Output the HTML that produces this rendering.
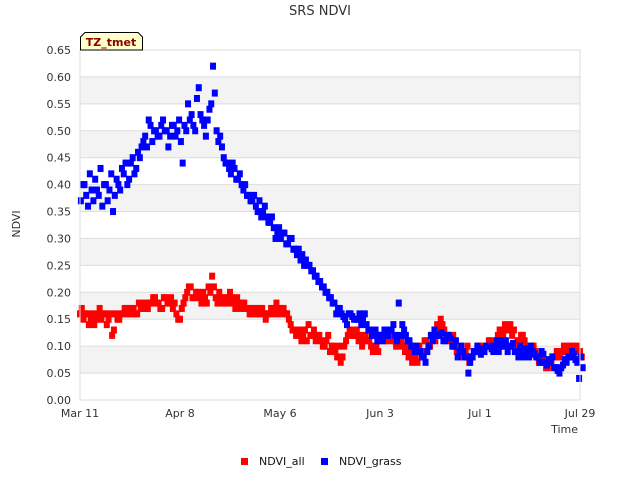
<!DOCTYPE html>
<html><head><meta charset="utf-8"><style>
body{margin:0;background:#fff;}
svg text{font-family:"DejaVu Sans","Liberation Sans",sans-serif;}
</style></head><body>
<svg id="c" width="640" height="480" xmlns="http://www.w3.org/2000/svg">
<rect width="640" height="480" fill="#fff"/>
<text x="320" y="15" text-anchor="middle" font-size="13" fill="#333">SRS NDVI</text>
<g id="bands"></g><g id="grid"></g>
<g id="marks"></g>
<rect x="80" y="50" width="500" height="350" fill="none" stroke="#ddd"/>
<g id="yt"></g><g id="xt"></g>
<text x="20" y="224" transform="rotate(-90 20 224)" text-anchor="middle" font-size="11" fill="#333">NDVI</text>
<text x="578" y="433" text-anchor="end" font-size="11" fill="#333">Time</text>
<g>
<path d="M80.5,50 L80.5,37 L85,32.5 L138,32.5 L142.5,37 L142.5,50 Z" fill="#ffffcc" stroke="#000"/>
<text x="111" y="46" text-anchor="middle" font-size="11" font-weight="bold" fill="#8b0000">TZ_tmet</text>
</g>
<g>
<rect x="241" y="458" width="7" height="7" fill="#f00"/>
<text x="259" y="465" font-size="11" fill="#111">NDVI_all</text>
<rect x="321" y="458" width="7" height="7" fill="#00f"/>
<text x="339" y="465" font-size="11" fill="#111">NDVI_grass</text>
</g>
</svg>
<script>
const xTickLabels=["Mar 11","Apr 8","May 6","Jun 3","Jul 1","Jul 29"];
const xTickDays=[0,28,56,84,112,140];
const yTicks=[0,0.05,0.1,0.15,0.2,0.25,0.3,0.35,0.4,0.45,0.5,0.55,0.6,0.65];
const grassA=[.37,.40,.36,.39,.41,.38,.36,.40,.39,.35,.41,.39,.42,.40,.44,.42,.46,.47,.49,.52,.48,.50,.49,.52,.50,.49,.51,.50,.48,.51,.55,.53,.50,.58,.52,.49,.54,.62,.50,.49,.45,.44,.42,.43,.41,.40,.40,.38,.37,.36,.37,.35,.34,.33,.32,.31,.30,.31,.29,.30,.28,.28,.27,.26,.25,.24,.23,.22,.21,.20,.19,.18,.17,.16,.15,.16,.155,.15,.16,.15,.14,.13,.12,.11,.12,.13,.12,.13,.12,.18,.14,.12,.11,.10,.10,.09,.08,.09,.12,.13,.12,.125,.11,.12,.10,.11,.09,.09,.08,.07,.09,.10,.085,.09,.10,.095,.10,.09,.11,.11,.10,.105,.09,.10,.08,.09,.10,.085,.08,.09,.07,.075,.08,.06,.05,.065,.07,.08,.085,.07,.08];
const grassB=[.40,.38,.42,.37,.39,.43,.40,.37,.42,.38,.40,.43,.44,.41,.45,.43,.45,.48,.47,.51,.50,.49,.51,.50,.47,.51,.49,.52,.44,.50,.52,.51,.56,.53,.51,.52,.55,.57,.48,.47,.44,.43,.44,.41,.42,.39,.38,.37,.38,.35,.34,.36,.33,.34,.30,.32,.31,.29,.30,.28,.27,.26,.25,.25,.24,.23,.22,.21,.20,.19,.18,.16,.17,.155,.14,.16,.15,.15,.14,.16,.13,.12,.13,.12,.11,.12,.13,.14,.11,.12,.13,.11,.10,.09,.09,.08,.07,.10,.11,.12,.12,.11,.12,.115,.10,.08,.10,.08,.05,.08,.09,.09,.095,.10,.10,.09,.11,.10,.10,.09,.10,.09,.08,.09,.095,.08,.09,.08,.07,.085,.065,.07,.06,.055,.06,.075,.08,.09,.075,.04,.06];
const allA=[.16,.15,.16,.15,.14,.16,.15,.16,.15,.12,.16,.15,.16,.17,.16,.17,.16,.17,.18,.17,.18,.19,.18,.17,.19,.18,.17,.16,.15,.18,.20,.21,.19,.20,.18,.19,.21,.23,.19,.20,.18,.19,.20,.18,.19,.17,.18,.17,.16,.17,.16,.17,.15,.16,.17,.18,.16,.17,.16,.14,.13,.12,.11,.13,.14,.12,.11,.12,.10,.11,.09,.10,.08,.07,.10,.12,.13,.12,.11,.10,.12,.11,.09,.10,.11,.12,.11,.12,.11,.10,.11,.09,.08,.07,.08,.10,.09,.11,.10,.12,.14,.15,.13,.12,.11,.10,.09,.08,.09,.07,.08,.09,.10,.09,.10,.11,.10,.12,.13,.14,.13,.12,.10,.11,.12,.10,.09,.10,.08,.07,.07,.06,.07,.08,.09,.09,.10,.10,.09,.10,.09];
const allB=[.17,.16,.14,.16,.15,.17,.16,.14,.16,.13,.15,.16,.17,.16,.17,.16,.18,.17,.17,.18,.19,.18,.17,.19,.18,.19,.18,.15,.17,.19,.21,.19,.20,.19,.20,.18,.20,.21,.18,.19,.19,.18,.19,.17,.18,.18,.17,.16,.17,.16,.17,.16,.16,.17,.16,.17,.17,.16,.15,.13,.12,.13,.12,.11,.12,.13,.12,.11,.10,.12,.10,.09,.10,.08,.11,.13,.12,.13,.12,.11,.11,.10,.10,.09,.12,.11,.12,.11,.10,.11,.10,.10,.09,.08,.07,.09,.11,.10,.12,.11,.13,.14,.12,.11,.12,.09,.10,.09,.10,.08,.09,.10,.09,.10,.11,.10,.11,.13,.12,.13,.14,.13,.11,.12,.11,.09,.10,.09,.07,.08,.06,.07,.08,.09,.08,.10,.09,.10,.10,.09,.08];
const NS="http://www.w3.org/2000/svg";
const X=d=>80+d*500/140, Y=v=>400-v*350/0.65;
function mk(p,t,a){const e=document.createElementNS(NS,t);for(const k in a)e.setAttribute(k,a[k]);document.getElementById(p).appendChild(e);return e;}
for(let i=0;i<13;i++){
  if(i%2==1){const b=mk('bands','rect',{x:80,y:Y(yTicks[i+1]),width:500,height:Y(yTicks[i])-Y(yTicks[i+1]),fill:'#f3f3f3'});
  
  }
}
yTicks.forEach(v=>{
  const l=mk('grid','line',{x1:80,x2:580,y1:Y(v),y2:Y(v),stroke:'#ddd'});
  
  
  const t=mk('yt','text',{x:71,y:Y(v)+4,'text-anchor':'end','font-size':11,fill:'#333'});
  t.textContent=v.toFixed(2);
  
  
});
xTickDays.forEach((d,i)=>{
  const t=mk('xt','text',{x:X(d),y:417,'text-anchor':'middle','font-size':11,fill:'#333'});
  t.textContent=xTickLabels[i];
  
  
});
function series(arr,off,col,name){
  arr.forEach((v,i)=>{
    const r=mk('marks','rect',{x:X(i+off)-3,y:Y(v)-3.5,width:6,height:7,fill:col});
    
    
  });
}
series(allA,0,'#f00','point-ndvi-all');
series(allB,0.5,'#f00','point-ndvi-all');
series(grassA,0.25,'#00f','point-ndvi-grass');
series(grassB,0.75,'#00f','point-ndvi-grass');
</script>
</body></html>
